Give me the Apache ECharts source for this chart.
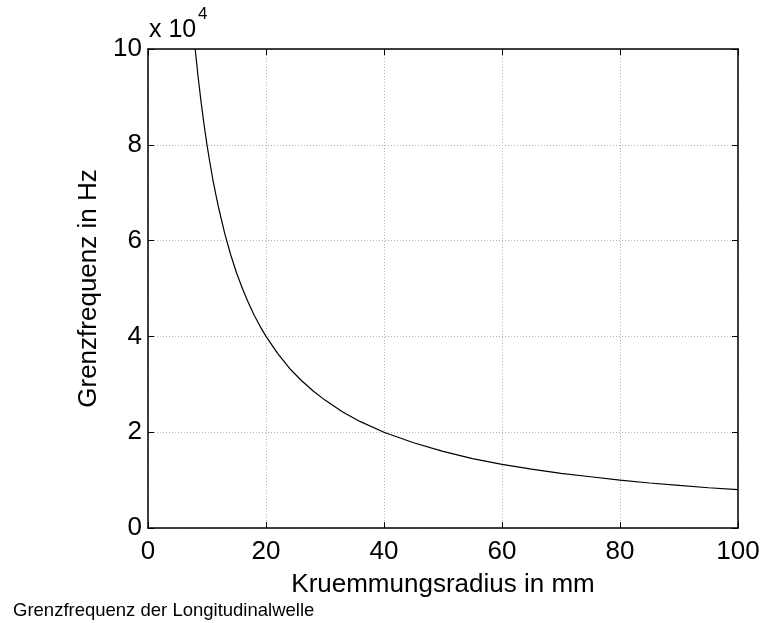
<!DOCTYPE html>
<html>
<head>
<meta charset="utf-8">
<script src="https://cdn.jsdelivr.net/npm/echarts@6/dist/echarts.min.js"></script>
<style>
  html, body { margin: 0; padding: 0; background: #fff; }
  #main { width: 764px; height: 623px; }
</style>
</head>
<body>
<div id="main"></div>
<script>
// Kruemmungsradius in mm
var radius = [8, 8.5, 9, 9.5, 10, 10.5, 11, 11.5, 12, 13, 14, 15, 16, 17, 18, 19, 20, 22, 24, 26, 28, 30, 33, 36, 40, 45, 50, 55, 60, 65, 70, 75, 80, 85, 90, 95, 100];
// Grenzfrequenz in Hz
var freq = [100000, 94100, 88900, 84200, 80000, 76200, 72700, 69600, 66700, 61500, 57100, 53300, 50000, 47100, 44400, 42100, 40000, 36400, 33300, 30800, 28600, 26700, 24200, 22200, 20000, 17800, 16000, 14500, 13300, 12300, 11400, 10700, 10000, 9400, 8900, 8400, 8000];
var xTicks = [0, 20, 40, 60, 80, 100];
var yTicks = [0, 2, 4, 6, 8, 10]; // x 10^4

var font = 'Liberation Sans, Arial, Helvetica, sans-serif';
var points = [];
for (var i = 0; i < radius.length; i++) {
	points.push([radius[i], freq[i]]);
}

var gridLine = {
	show: true,
	lineStyle: { color: '#b4b4b4', type: [1, 2], width: 1 }
};
var tick = { show: true, inside: true, length: 6, lineStyle: { color: '#000', width: 1 } };
var line = { show: true, onZero: false, lineStyle: { color: '#000', width: 1.5 } };

var chart = echarts.init(document.getElementById('main'));
var option = {
	animation: false,
	backgroundColor: '#fff',
	textStyle: { fontFamily: font },
	grid: { left: 148, top: 49, right: 26, bottom: 95, containLabel: false },
	xAxis: [{
		type: 'value',
		min: xTicks[0],
		max: xTicks[xTicks.length - 1],
		interval: 20,
		position: 'bottom',
		axisLine: line,
		axisTick: tick,
		splitLine: gridLine,
		axisLabel: { color: '#000', fontSize: 26, margin: 11, fontFamily: font },
		name: 'Kruemmungsradius in mm',
		nameLocation: 'middle',
		nameGap: 44,
		nameTextStyle: { color: '#000', fontSize: 26, fontFamily: font }
	}, {
		type: 'value',
		min: xTicks[0],
		max: xTicks[xTicks.length - 1],
		interval: 20,
		position: 'top',
		axisLine: line,
		axisTick: tick,
		splitLine: { show: false },
		axisLabel: { show: false }
	}],
	yAxis: [{
		type: 'value',
		min: 0,
		max: yTicks[yTicks.length - 1] * 1e4,
		interval: 2e4,
		position: 'left',
		axisLine: line,
		axisTick: tick,
		splitLine: gridLine,
		axisLabel: {
			color: '#000', fontSize: 26, margin: 6, fontFamily: font,
			formatter: function (v) { return String(v / 1e4); }
		},
		name: 'Grenzfrequenz in Hz',
		nameLocation: 'middle',
		nameGap: 38,
		nameTextStyle: { color: '#000', fontSize: 26, fontFamily: font }
	}, {
		type: 'value',
		min: 0,
		max: yTicks[yTicks.length - 1] * 1e4,
		interval: 2e4,
		position: 'right',
		axisLine: line,
		axisTick: tick,
		splitLine: { show: false },
		axisLabel: { show: false }
	}],
	graphic: [{
		type: 'text',
		x: 149,
		y: 18,
		style: { text: 'x 10', fill: '#000', font: '25px ' + font }
	}, {
		type: 'text',
		x: 198,
		y: 6,
		style: { text: '4', fill: '#000', font: '17px ' + font }
	}, {
		type: 'text',
		x: 13,
		y: 601,
		style: { text: 'Grenzfrequenz der Longitudinalwelle', fill: '#000', font: '18.5px ' + font }
	}],
	series: [{
		type: 'line',
		data: points,
		showSymbol: false,
		smooth: false,
		lineStyle: { color: '#000', width: 1.2 }
	}]
};
chart.setOption(option);
</script>
</body>
</html>
